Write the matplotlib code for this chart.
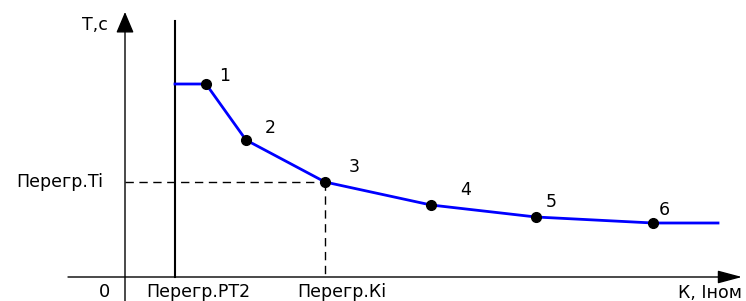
import matplotlib.pyplot as plt

# curve points (K, T), arbitrary units
k_pts = [81, 121, 200, 306, 411, 528]
t_pts = [193, 137, 95, 72, 60, 54]
pt_labels = ["1", "2", "3", "4", "5", "6"]
k_pt2 = 50      # Перегр.РТ2
k_end = 593     # end of curve
k_i = 200       # Перегр.Ki
t_i = 95        # Перегр.Ti

plt.rcParams["font.family"] = ["DejaVu Sans"]
fig = plt.figure(figsize=(7.46, 3.01), dpi=100)
ax = fig.add_axes([0, 0, 1, 1])
ax.set_xlim(-125, 621)
ax.set_ylim(-24, 277)
ax.axis("off")

# axes with arrows
ax.annotate("", xy=(617, 0), xytext=(-57, 0),
            arrowprops=dict(arrowstyle="-|>,head_length=1.5,head_width=0.4", color="black", lw=1, shrinkA=0, shrinkB=0))
ax.annotate("", xy=(0, 265), xytext=(0, -24),
            arrowprops=dict(arrowstyle="-|>,head_length=1.3,head_width=0.55", color="black", lw=1, shrinkA=0, shrinkB=0))

# Перегр.РТ2 vertical line
ax.plot([k_pt2, k_pt2], [0, 256], color="black", lw=1.5)

# dashed guides
ax.plot([0, k_i], [t_i, t_i], color="black", lw=1, dashes=(6, 4))
ax.plot([k_i, k_i], [t_i, 0], color="black", lw=1, dashes=(6, 4))

# curve
xs = [k_pt2] + k_pts + [k_end]
ys = [t_pts[0]] + t_pts + [t_pts[-1]]
ax.plot(xs, ys, color="#0000ff", lw=2, zorder=3)
ax.plot(k_pts, t_pts, "o", color="black", ms=7, zorder=4)

offsets = [(19, 8), (24, 12), (29, 15), (35, 15), (15, 15), (11, 13)]
for k, t, lab, (dx, dy) in zip(k_pts, t_pts, pt_labels, offsets):
    ax.text(k + dx, t + dy, lab, fontsize=12.5, ha="center", va="center")

fs = 12.5
ax.text(-17, 252, "T,c", fontsize=fs, ha="right", va="center")
ax.text(-22, t_i, "Перегр.Ti", fontsize=fs, ha="right", va="center")
ax.text(-20, -15, "0", fontsize=13, ha="center", va="center")
ax.text(73, -15, "Перегр.РТ2", fontsize=fs, ha="center", va="center")
ax.text(217, -15, "Перегр.Кi", fontsize=fs, ha="center", va="center")
ax.text(585, -16, "К, Iном", fontsize=fs, ha="center", va="center")

fig.savefig("out.png", dpi=100)
